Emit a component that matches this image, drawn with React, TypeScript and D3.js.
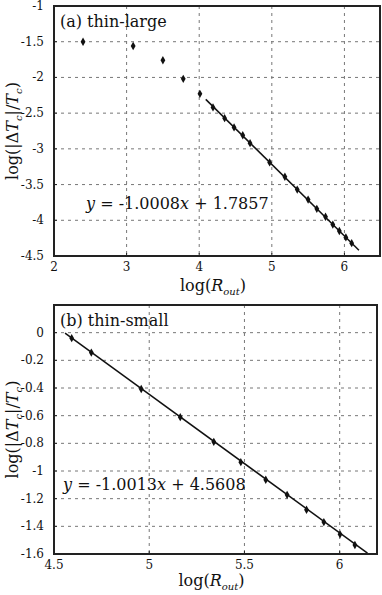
import React from 'react';
import * as d3 from 'd3';

// (a) thin-large
const largeX = [2.4, 3.09, 3.5, 3.78, 4.01, 4.19, 4.35, 4.48, 4.6, 4.7, 4.97, 5.18, 5.35, 5.5, 5.62, 5.74, 5.84, 5.93, 6.02, 6.1];
const largeY = [-1.5, -1.56, -1.76, -2.02, -2.23, -2.42, -2.57, -2.7, -2.81, -2.92, -3.19, -3.39, -3.57, -3.71, -3.84, -3.95, -4.06, -4.15, -4.24, -4.32];
const largeFit = { slope: -1.0008, intercept: 1.7857, from: 4.09, to: 6.2 };
const largeXTicks = [2, 3, 4, 5, 6];
const largeYTicks = [-1, -1.5, -2, -2.5, -3, -3.5, -4, -4.5];

// (b) thin-small
const smallX = [4.593, 4.696, 4.958, 5.163, 5.339, 5.481, 5.612, 5.724, 5.826, 5.917, 6.002, 6.08];
const smallY = [-0.04, -0.144, -0.407, -0.611, -0.789, -0.936, -1.063, -1.172, -1.28, -1.369, -1.458, -1.535];
const smallFit = { slope: -1.0013, intercept: 4.5608, from: 4.558, to: 6.146 };
const smallXTicks = [4.5, 5, 5.5, 6];
const smallYTicks = [0.2, 0, -0.2, -0.4, -0.6, -0.8, -1, -1.2, -1.4, -1.6];

const FONT = "'DejaVu Serif', 'Liberation Serif', 'Times New Roman', serif";

type PanelProps = {
  top: number;
  left: number;
  right: number;
  bottom: number;
  xDomain: [number, number];
  yDomain: [number, number];
  xs: number[];
  ys: number[];
  fit: { slope: number; intercept: number; from: number; to: number };
  xTicks: number[];
  yTicks: number[];
  label: string;
  eqText: [string, string]; // slope, intercept
  eqPos: [number, number];
  xLabelGap: number;
  hideTopTick?: boolean;
};

const Panel = (p: PanelProps) => {
  const x = d3.scaleLinear().domain(p.xDomain).range([p.left, p.right]);
  const y = d3.scaleLinear().domain(p.yDomain).range([p.bottom, p.top]);
  const diamond = d3.symbol().type(d3.symbolDiamond).size(20)();
  const line = d3.line<number>()
    .x(d => x(d))
    .y(d => y(p.fit.slope * d + p.fit.intercept));
  const fmt = (v: number) => String(v);

  return (
    <g style={{ fontFamily: FONT }}>
      {/* grid */}
      {p.xTicks.filter(t => t > p.xDomain[0] && t < p.xDomain[1]).map(t => (
        <line key={'gx' + t} x1={x(t)} x2={x(t)} y1={p.top} y2={p.bottom}
          stroke="#777" strokeWidth={1} strokeDasharray="3,4" />
      ))}
      {p.yTicks.filter(t => t > p.yDomain[0] && t < p.yDomain[1]).map(t => (
        <line key={'gy' + t} x1={p.left} x2={p.right} y1={y(t)} y2={y(t)}
          stroke="#777" strokeWidth={1} strokeDasharray="3,4" />
      ))}
      {/* ticks inward */}
      {p.xTicks.map(t => (
        <g key={'tx' + t}>
          <line x1={x(t)} x2={x(t)} y1={p.bottom} y2={p.bottom - 3} stroke="#222" />
          <text x={x(t)} y={p.bottom + 15} textAnchor="middle" fontSize={12} fill="#111">{fmt(t)}</text>
        </g>
      ))}
      {p.yTicks.map(t => (
        <g key={'ty' + t}>
          <line x1={p.left} x2={p.left + 3} y1={y(t)} y2={y(t)} stroke="#222" />
          {!(p.hideTopTick && t === p.yDomain[1]) && (
            <text x={p.left - 10} y={y(t) + 4} textAnchor="end" fontSize={12} fill="#111">{fmt(t)}</text>
          )}
        </g>
      ))}
      {/* fit line */}
      <path d={line([p.fit.from, p.fit.to]) || ''} stroke="#111" strokeWidth={1.5} fill="none" />
      {/* points */}
      {p.xs.map((v, i) => (
        <path key={'p' + i} d={diamond || ''} transform={`translate(${x(v)},${y(p.ys[i])})`} fill="#111" />
      ))}
      {/* frame */}
      <rect x={p.left} y={p.top} width={p.right - p.left} height={p.bottom - p.top}
        fill="none" stroke="#222" strokeWidth={2} />
      <text x={p.left + 6} y={p.top + 21} fontSize={16} fill="#111">{p.label}</text>
      <text x={p.eqPos[0]} y={p.eqPos[1]} fontSize={16} fill="#111">
        <tspan fontStyle="italic">y</tspan>
        <tspan> = {p.eqText[0]}</tspan>
        <tspan fontStyle="italic">x</tspan>
        <tspan> + {p.eqText[1]}</tspan>
      </text>
      {/* axis labels */}
      <text x={(p.left + p.right) / 2 - 4} y={p.bottom + p.xLabelGap} textAnchor="middle" fontSize={16} fill="#111">
        log(<tspan fontStyle="italic">R</tspan><tspan fontStyle="italic" fontSize={10} dy={4}>out</tspan><tspan dy={-4}>)</tspan>
      </text>
      <text transform={`translate(${p.left - 36},${(p.top + p.bottom) / 2}) rotate(-90)`} textAnchor="middle" fontSize={16} fill="#111">
        log(|Δ<tspan fontStyle="italic">T</tspan><tspan fontStyle="italic" fontSize={10} dy={4}>c</tspan><tspan dy={-4}>|/</tspan><tspan fontStyle="italic">T</tspan><tspan fontStyle="italic" fontSize={10} dy={4}>c</tspan><tspan dy={-4}>)</tspan>
      </text>
    </g>
  );
};

export default function App() {
  return (
    <svg width={382} height={595} style={{ position: 'absolute', left: 0, top: 0, background: '#fff' }}>
      <Panel top={6} left={54} right={380} bottom={256}
        xDomain={[2, 6.49]} yDomain={[-4.5, -1]}
        xs={largeX} ys={largeY} fit={largeFit}
        xTicks={largeXTicks} yTicks={largeYTicks}
        label="(a) thin-large" eqText={['-1.0008', '1.7857']} eqPos={[86, 209]} xLabelGap={35} />
      <Panel top={305} left={54} right={377} bottom={554}
        xDomain={[4.5, 6.196]} yDomain={[-1.6, 0.2]}
        xs={smallX} ys={smallY} fit={smallFit}
        xTicks={smallXTicks} yTicks={smallYTicks}
        label="(b) thin-small" eqText={['-1.0013', '4.5608']} eqPos={[63, 490]} xLabelGap={32} hideTopTick />
    </svg>
  );
}
